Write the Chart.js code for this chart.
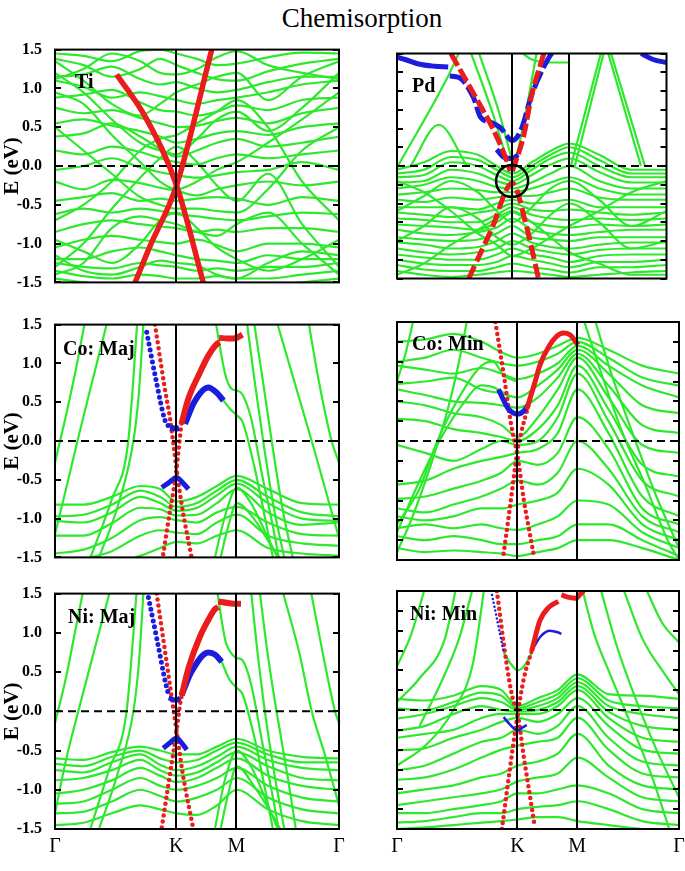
<!DOCTYPE html>
<html lang="en">
<head>
<meta charset="UTF-8">
<title>Chemisorption</title>
<script src="https://cdn.jsdelivr.net/npm/chart.js"></script>
<style>
    body {
        margin: 0;
        background: white;
        font-family: 'Liberation Serif', 'Times New Roman', serif;
    }
    #fig { position: relative; width: 685px; height: 871px; }
    .title {
        position: absolute;
        left: 262px; top: 5px; width: 200px;
        text-align: center;
        font-size: 27px; line-height: 27px;
        white-space: nowrap;
    }
    .panel { position: absolute; }
</style>
</head>
<body>
<div id="fig">
    <div class="title">Chemisorption</div>
    <div class="panel" style="left:0;top:35px"><canvas id="ti" width="345" height="262"></canvas></div>
    <div class="panel" style="left:340px;top:35px"><canvas id="pd" width="345" height="262"></canvas></div>
    <div class="panel" style="left:0;top:310px"><canvas id="coMaj" width="345" height="262"></canvas></div>
    <div class="panel" style="left:340px;top:310px"><canvas id="coMin" width="345" height="262"></canvas></div>
    <div class="panel" style="left:0;top:579px"><canvas id="niMaj" width="345" height="290"></canvas></div>
    <div class="panel" style="left:340px;top:579px"><canvas id="niMin" width="345" height="290"></canvas></div>
</div>

<script>
// k-path: Γ - K - M - Γ (normalised), energies in eV
const kTicks = [0, 0.427, 0.639, 1];
const kNames = ['Γ', 'K', 'M', 'Γ'];
const kGrid = [0, 0.10, 0.20, 0.30, 0.37, 0.428, 0.50, 0.57, 0.64, 0.75, 0.87, 1.0];

// ---------- Ti ----------
const tiGreen = [
    [1.45, 1.42, 1.35, 1.48, 1.50, 1.45, 1.38, 1.30, 1.32, 1.40, 1.46, 1.45],
    [1.38, 1.30, 1.15, 1.25, 1.38, 1.30, 1.20, 1.12, 1.10, 1.22, 1.32, 1.38],
    [1.15, 1.18, 1.28, 1.12, 1.05, 1.08, 1.00, 0.95, 0.98, 1.08, 1.15, 1.15],
    [1.10, 1.02, 0.88, 0.95, 0.90, 0.85, 0.80, 0.85, 0.88, 0.95, 1.05, 1.10],
    [0.88, 0.92, 0.98, 0.82, 0.72, 0.70, 0.65, 0.70, 0.78, 0.72, 0.85, 0.88],
    [0.75, 0.68, 0.72, 0.62, 0.55, 0.50, 0.52, 0.58, 0.62, 0.55, 0.68, 0.75],
    [0.55, 0.60, 0.52, 0.45, 0.38, 0.30, 0.35, 0.42, 0.45, 0.40, 0.50, 0.55],
    [0.38, 0.42, 0.55, 0.38, 0.22, 0.12, 0.20, 0.30, 0.35, 0.25, 0.30, 0.38],
    [0.20, 0.15, 0.25, 0.18, 0.10, 0.05, 0.02, 0.10, 0.15, 0.10, 0.15, 0.20],
    [-0.05, 0.00, 0.10, -0.02, -0.08, -0.12, -0.15, -0.12, -0.08, -0.05, 0.05, -0.05],
    [-0.20, -0.30, -0.18, -0.22, -0.28, -0.32, -0.38, -0.30, -0.25, -0.20, -0.25, -0.20],
    [-0.45, -0.40, -0.35, -0.45, -0.42, -0.45, -0.42, -0.40, -0.42, -0.50, -0.40, -0.45],
    [-0.62, -0.55, -0.60, -0.55, -0.58, -0.62, -0.65, -0.68, -0.70, -0.65, -0.60, -0.62],
    [-0.85, -0.75, -0.70, -0.75, -0.78, -0.80, -0.85, -0.82, -0.85, -0.80, -0.80, -0.85],
    [-1.05, -0.95, -0.90, -0.95, -0.98, -1.00, -0.95, -1.02, -1.10, -1.00, -1.00, -1.05],
    [-1.20, -1.20, -1.10, -1.05, -1.10, -1.15, -1.20, -1.22, -1.25, -1.15, -1.20, -1.20],
    [-1.25, -1.30, -1.32, -1.25, -1.28, -1.30, -1.35, -1.32, -1.35, -1.30, -1.30, -1.25],
    [-1.35, -1.42, -1.45, -1.40, -1.42, -1.45, -1.45, -1.42, -1.45, -1.45, -1.40, -1.35],
    [-1.45, -1.50, -1.55, -1.52, -1.55, -1.55, -1.55, -1.52, -1.55, -1.55, -1.50, -1.45],
    [1.20, 0.95, 0.60, 0.30, 0.20, 0.15, 0.35, 0.60, 0.70, 0.45, 0.75, 1.20],
    [-1.30, -1.00, -0.55, -0.15, 0.10, 0.25, 0.05, -0.25, -0.45, -0.10, -0.75, -1.30],
    [0.50, 0.20, -0.10, -0.40, -0.50, -0.55, -0.55, -0.58, -0.60, -0.30, 0.20, 0.50],
    [-0.70, -0.50, -0.20, 0.20, 0.35, 0.40, 0.55, 0.70, 0.85, 0.50, -0.20, -0.70],
    [1.35, 1.10, 0.80, 0.65, 0.80, 0.95, 1.05, 1.15, 1.20, 0.85, 1.15, 1.35],
    [-1.40, -1.25, -0.80, -0.65, -0.70, -0.75, -0.85, -0.90, -0.75, -0.60, -1.00, -1.40],
    [0.95, 0.80, 0.40, 0.05, -0.20, -0.30, -0.20, -0.05, 0.05, 0.30, 0.60, 0.95],
    [-0.95, -1.10, -1.25, -1.00, -0.70, -0.60, -0.80, -1.05, -1.20, -1.35, -1.20, -0.95],
    [1.12, 1.25, 1.45, 1.35, 1.20, 1.18, 1.25, 1.40, 1.48, 1.30, 1.20, 1.12],
    [-1.15, -1.35, -1.40, -1.30, -1.22, -1.25, -1.28, -1.40, -1.45, -1.25, -1.10, -1.15]
];
const tiRed1 = [[0.217, 1.18], [0.32, 0.62], [0.428, -0.25], [0.522, -1.5]];
const tiRed2 = [[0.282, -1.5], [0.335, -1.03], [0.428, -0.25], [0.552, 1.5]];

// ---------- Pd ----------
const pdGreen = [
    [-0.05, 0.05, 0.20, 0.15, 0.00, -0.10, 0.05, 0.20, 0.30, 0.15, -0.05, -0.05],
    [-0.10, -0.05, 0.12, 0.08, -0.05, -0.15, 0.00, 0.15, 0.25, 0.08, -0.10, -0.10],
    [-0.15, -0.12, 0.05, 0.00, -0.12, -0.20, -0.05, 0.10, 0.18, 0.00, -0.15, -0.15],
    [-0.22, -0.20, -0.05, -0.10, -0.20, -0.25, -0.12, 0.02, 0.10, -0.08, -0.22, -0.22],
    [-0.30, -0.25, -0.15, -0.20, -0.28, -0.30, -0.22, -0.10, 0.00, -0.20, -0.30, -0.30],
    [-0.38, -0.35, -0.30, -0.32, -0.35, -0.35, -0.30, -0.22, -0.15, -0.30, -0.38, -0.38],
    [-0.45, -0.48, -0.42, -0.45, -0.42, -0.40, -0.40, -0.35, -0.30, -0.42, -0.45, -0.45],
    [-0.55, -0.55, -0.55, -0.58, -0.50, -0.45, -0.50, -0.48, -0.45, -0.55, -0.55, -0.55],
    [-0.62, -0.65, -0.68, -0.62, -0.58, -0.50, -0.58, -0.60, -0.58, -0.62, -0.65, -0.62],
    [-0.70, -0.72, -0.75, -0.75, -0.65, -0.55, -0.65, -0.70, -0.72, -0.70, -0.72, -0.70],
    [-0.78, -0.80, -0.82, -0.85, -0.75, -0.62, -0.75, -0.80, -0.82, -0.78, -0.80, -0.78],
    [-0.85, -0.90, -0.92, -0.88, -0.82, -0.70, -0.85, -0.90, -0.92, -0.88, -0.85, -0.85],
    [-0.95, -0.98, -1.00, -0.98, -0.90, -0.80, -0.95, -0.98, -1.00, -0.95, -0.95, -0.95],
    [-1.02, -1.05, -1.10, -1.08, -1.00, -0.90, -1.02, -1.08, -1.10, -1.05, -1.02, -1.02],
    [-1.10, -1.15, -1.18, -1.15, -1.10, -1.00, -1.10, -1.15, -1.18, -1.12, -1.10, -1.10],
    [-1.18, -1.22, -1.25, -1.25, -1.18, -1.10, -1.18, -1.22, -1.28, -1.20, -1.18, -1.18],
    [-1.25, -1.30, -1.32, -1.32, -1.28, -1.20, -1.25, -1.30, -1.35, -1.28, -1.28, -1.25],
    [-1.32, -1.38, -1.40, -1.40, -1.35, -1.30, -1.35, -1.38, -1.42, -1.35, -1.35, -1.32],
    [-1.40, -1.45, -1.48, -1.45, -1.42, -1.40, -1.42, -1.45, -1.48, -1.45, -1.42, -1.40],
    [-0.60, -0.40, -0.20, -0.35, -0.60, -0.75, -0.55, -0.30, -0.20, -0.45, -0.80, -0.60],
    [-1.00, -0.80, -0.55, -0.70, -0.95, -1.05, -0.90, -0.65, -0.50, -0.75, -1.10, -1.00],
    [-0.20, -0.35, -0.60, -0.90, -1.05, -1.20, -1.10, -0.95, -0.80, -0.60, -0.35, -0.20],
    [-1.45, -1.30, -1.05, -0.85, -0.70, -0.60, -0.75, -0.95, -1.15, -1.30, -1.45, -1.45]
];
const pdGreenLines = [
    [[0.0, -0.02], [0.19, 1.2], [0.235, 1.55]],
    [[0.05, 0.0], [0.155, 0.55], [0.26, 0.0]],
    [[0.27, 1.55], [0.36, 0.65], [0.41, 0.05]],
    [[0.30, 1.55], [0.38, 0.70], [0.425, 0.10]],
    [[0.44, 0.05], [0.48, 0.75], [0.52, 1.55]],
    [[0.45, 1.55], [0.50, 1.42], [0.57, 1.38], [0.64, 1.38]],
    [[0.645, 0.0], [0.76, 1.55]],
    [[0.66, 0.0], [0.77, 1.55]],
    [[0.78, 1.55], [0.905, 0.0]],
    [[0.79, 1.55], [0.92, 0.0]]
];
const pdRedUpL = [[0.20, 1.5], [0.296, 0.89], [0.354, 0.51], [0.401, 0.13], [0.42, -0.07]];
const pdRedUpR = [[0.428, -0.07], [0.47, 0.40], [0.50, 0.95], [0.545, 1.5]];
const pdRedLow = [[0.266, -1.5], [0.35, -0.85], [0.428, -0.23], [0.48, -0.80], [0.525, -1.5]];
const pdBlueTop = [[0.0, 1.45], [0.03, 1.42], [0.08, 1.36], [0.14, 1.33], [0.19, 1.32]];
const pdBlueV = [[0.196, 1.2], [0.23, 1.18], [0.284, 0.91], [0.31, 0.65], [0.35, 0.58], [0.384, 0.51],
                 [0.428, 0.34], [0.46, 0.48], [0.50, 0.95], [0.566, 1.46], [0.575, 1.5]];
const pdBlueLow = [[0.37, 0.22], [0.395, 0.12], [0.428, 0.10], [0.45, 0.15]];
const pdBlueRight = [[0.906, 1.5], [0.95, 1.42], [1.0, 1.38]];
const pdCircle = [[0.427, -0.2]];

// ---------- Co: Maj ----------
const coMajGreen = [
    [-0.82, -0.82, -0.72, -0.58, -0.62, -0.78, -0.72, -0.58, -0.45, -0.62, -0.80, -0.82],
    [-0.97, -0.95, -0.82, -0.64, -0.72, -0.85, -0.80, -0.64, -0.50, -0.72, -0.92, -0.97],
    [-1.03, -1.05, -0.92, -0.72, -0.80, -0.90, -0.86, -0.70, -0.55, -0.80, -1.00, -1.03],
    [-1.22, -1.22, -1.06, -0.86, -0.88, -0.96, -0.95, -0.80, -0.62, -0.92, -1.08, -1.05],
    [-1.45, -1.40, -1.25, -1.02, -0.98, -1.02, -1.05, -0.92, -0.85, -1.05, -1.20, -1.22],
    [-1.58, -1.52, -1.42, -1.22, -1.15, -1.18, -1.20, -1.05, -0.95, -1.22, -1.32, -1.35],
    [-1.65, -1.62, -1.58, -1.48, -1.38, -1.30, -1.32, -1.22, -1.15, -1.38, -1.45, -1.48]
];
const coMajGreenLines = [
    [[0.0, -0.28], [0.04, 0.35], [0.075, 0.95], [0.106, 1.55]],
    [[0.0, -1.2], [0.04, -0.6], [0.079, 0.0], [0.13, 0.75], [0.185, 1.55]],
    [[0.12, -1.55], [0.20, -0.75], [0.258, 0.0], [0.29, 1.55]],
    [[0.15, -1.55], [0.22, -0.85], [0.276, 0.0], [0.295, 0.6], [0.312, 1.55]],
    [[0.675, 1.55], [0.70, 0.85], [0.733, 0.0], [0.77, -0.85], [0.81, -1.55]],
    [[0.70, 1.55], [0.735, 0.7], [0.763, 0.0], [0.80, -0.85], [0.84, -1.55]],
    [[0.78, 1.55], [0.84, 0.8], [0.904, 0.0], [0.95, -0.6], [1.0, -1.25]],
    [[0.892, 1.55], [0.93, 0.75], [0.974, 0.0], [1.0, -0.28]],
    [[0.565, 1.55], [0.60, 0.85], [0.62, 0.68], [0.64, 0.65], [0.66, 0.6], [0.69, 0.3], [0.73, -0.45], [0.77, -1.15], [0.79, -1.55]],
    [[0.593, 0.52], [0.62, 0.40], [0.64, 0.33], [0.66, 0.25], [0.70, -0.3], [0.74, -1.0], [0.77, -1.55]],
    [[0.56, -1.55], [0.60, -0.95], [0.64, -0.6], [0.69, -0.8], [0.75, -1.25], [0.79, -1.55]],
    [[0.58, -1.55], [0.61, -1.1], [0.64, -0.8], [0.70, -1.0], [0.77, -1.4], [0.80, -1.55]]
];
const coMajRed1 = [[0.352, 1.5], [0.387, 0.67], [0.405, 0.29], [0.417, -0.04], [0.428, -0.36], [0.446, -0.82], [0.481, -1.5]];
const coMajRed2 = [[0.381, -1.46], [0.405, -0.9], [0.418, -0.62], [0.428, -0.36], [0.437, -0.05], [0.446, 0.25]];
const coMajRedArc = [[0.445, 0.22], [0.47, 0.55], [0.51, 0.88], [0.54, 1.10], [0.57, 1.25], [0.58, 1.27]];
const coMajRedFlat = [[0.578, 1.33], [0.61, 1.32], [0.64, 1.33], [0.66, 1.37]];
const coMajBlue1 = [[0.323, 1.40], [0.355, 0.80], [0.387, 0.27], [0.405, 0.17]];
const coMajBlueFlat = [[0.405, 0.17], [0.428, 0.16], [0.437, 0.17]];
const coMajBlueArc = [[0.458, 0.22], [0.49, 0.50], [0.54, 0.69], [0.57, 0.62], [0.593, 0.52]];
const coMajBlueLam = [[0.376, -0.60], [0.40, -0.54], [0.428, -0.47], [0.45, -0.54], [0.47, -0.62]];

// ---------- Co: Min ----------
const coMinGreen = [
    [1.25, 1.28, 1.35, 1.25, 1.12, 1.05, 1.10, 1.20, 1.30, 1.15, 0.95, 0.85],
    [1.00, 1.05, 1.15, 1.05, 0.98, 0.95, 1.00, 1.10, 1.25, 1.05, 0.80, 0.70],
    [0.95, 0.90, 0.85, 0.92, 0.85, 0.78, 0.85, 0.98, 1.20, 0.95, 0.70, 0.55],
    [0.72, 0.75, 0.80, 0.65, 0.60, 0.55, 0.70, 0.90, 1.15, 0.85, 0.45, 0.35],
    [0.65, 0.58, 0.50, 0.48, 0.45, 0.42, 0.55, 0.80, 1.10, 0.70, 0.20, 0.10],
    [0.50, 0.45, 0.35, 0.30, 0.20, 0.05, 0.30, 0.65, 1.05, 0.55, -0.05, -0.15],
    [0.28, 0.25, 0.15, 0.10, 0.05, 0.00, 0.15, 0.45, 0.95, 0.40, -0.30, -0.45],
    [-0.05, -0.15, -0.25, -0.10, 0.00, -0.05, 0.00, 0.30, 0.85, 0.25, -0.50, -0.70],
    [-0.55, -0.50, -0.35, -0.25, -0.20, -0.15, -0.10, 0.10, 0.65, 0.10, -0.70, -0.95],
    [-0.73, -0.70, -0.60, -0.50, -0.40, -0.25, -0.30, -0.15, 0.30, -0.10, -0.85, -1.05],
    [-0.85, -0.90, -0.80, -0.70, -0.60, -0.50, -0.55, -0.40, 0.00, -0.35, -0.95, -1.15],
    [-0.95, -1.00, -0.95, -0.85, -0.85, -0.80, -0.75, -0.65, -0.35, -0.55, -1.05, -1.25],
    [-1.10, -1.05, -1.10, -1.05, -1.10, -1.12, -1.05, -0.95, -0.75, -0.80, -1.15, -1.35],
    [-1.20, -1.25, -1.20, -1.25, -1.30, -1.30, -1.25, -1.20, -1.05, -1.05, -1.25, -1.45],
    [-1.35, -1.40, -1.38, -1.40, -1.42, -1.45, -1.40, -1.35, -1.25, -1.25, -1.35, -1.50]
];
const coMinGreenLines = [
    [[0.0, -1.05], [0.08, -0.6], [0.143, 0.0], [0.22, 0.55], [0.30, 0.95], [0.34, 1.0], [0.38, 0.82], [0.428, 0.75]],
    [[0.0, -1.15], [0.08, -0.5], [0.15, 0.0], [0.23, 0.45], [0.30, 0.70], [0.36, 0.65], [0.40, 0.55]],
    [[0.66, 1.55], [0.72, 0.9], [0.80, 0.1], [0.88, -0.55], [0.96, -1.25], [1.0, -1.5]],
    [[0.70, 1.55], [0.76, 0.85], [0.83, 0.15], [0.92, -0.7], [1.0, -1.35]],
    [[0.0, 0.75], [0.03, 1.1], [0.06, 1.55]],
    [[0.0, -1.4], [0.05, -1.0], [0.12, -0.3], [0.18, 0.4], [0.22, 1.0], [0.25, 1.55]]
];
const coMinRed1 = [[0.349, 1.5], [0.38, 0.8], [0.405, 0.2], [0.428, -0.2], [0.45, -0.75], [0.47, -1.15], [0.484, -1.42]];
const coMinRed2 = [[0.378, -1.42], [0.40, -0.85], [0.418, -0.35], [0.428, -0.1], [0.44, 0.1], [0.466, 0.45]];
const coMinRedArc = [[0.46, 0.4], [0.49, 0.75], [0.507, 0.96], [0.54, 1.2], [0.566, 1.32], [0.59, 1.36], [0.613, 1.34], [0.642, 1.21]];
const coMinBlue = [[0.36, 0.65], [0.38, 0.50], [0.396, 0.40], [0.428, 0.34], [0.45, 0.38], [0.466, 0.46]];

// ---------- Ni: Maj ----------
const niMajGreen = [
    [-0.60, -0.62, -0.52, -0.45, -0.50, -0.55, -0.55, -0.45, -0.35, -0.50, -0.58, -0.60],
    [-0.67, -0.70, -0.58, -0.50, -0.60, -0.65, -0.62, -0.50, -0.40, -0.55, -0.65, -0.65],
    [-0.75, -0.78, -0.65, -0.55, -0.68, -0.75, -0.70, -0.58, -0.45, -0.62, -0.72, -0.75],
    [-0.88, -0.85, -0.75, -0.62, -0.75, -0.82, -0.78, -0.65, -0.52, -0.70, -0.85, -0.88],
    [-1.05, -1.00, -0.88, -0.72, -0.82, -0.90, -0.85, -0.72, -0.60, -0.82, -0.95, -1.00],
    [-1.18, -1.15, -1.00, -0.85, -0.95, -1.00, -0.95, -0.85, -0.72, -0.95, -1.10, -1.15],
    [-1.30, -1.28, -1.15, -1.00, -1.08, -1.15, -1.10, -1.00, -0.85, -1.10, -1.25, -1.30],
    [-1.45, -1.42, -1.30, -1.20, -1.25, -1.30, -1.32, -1.20, -1.00, -1.25, -1.40, -1.45]
];
const niMajGreenLines = [
    [[0.0, -0.15], [0.04, 0.45], [0.07, 1.0], [0.10, 1.55]],
    [[0.0, -1.3], [0.04, -0.6], [0.082, 0.0], [0.14, 0.8], [0.195, 1.55]],
    [[0.12, -1.55], [0.19, -0.75], [0.252, 0.0], [0.288, 1.55]],
    [[0.15, -1.55], [0.22, -0.8], [0.276, 0.0], [0.295, 0.6], [0.312, 1.55]],
    [[0.69, 1.55], [0.71, 0.85], [0.739, 0.0], [0.775, -0.85], [0.81, -1.55]],
    [[0.72, 1.55], [0.75, 0.7], [0.78, 0.0], [0.82, -0.85], [0.85, -1.55]],
    [[0.80, 1.55], [0.86, 0.75], [0.904, 0.0], [0.95, -0.55], [1.0, -1.2]],
    [[0.90, 1.55], [0.945, 0.7], [0.986, 0.0], [1.0, -0.15]],
    [[0.57, 1.55], [0.60, 0.9], [0.625, 0.72], [0.64, 0.68], [0.66, 0.65], [0.69, 0.35], [0.73, -0.4], [0.77, -1.15], [0.79, -1.55]],
    [[0.587, 0.63], [0.615, 0.40], [0.64, 0.30], [0.66, 0.22], [0.70, -0.3], [0.74, -1.0], [0.77, -1.55]],
    [[0.56, -1.55], [0.60, -0.85], [0.64, -0.5], [0.69, -0.7], [0.75, -1.2], [0.79, -1.55]],
    [[0.58, -1.55], [0.61, -1.05], [0.64, -0.7], [0.70, -0.95], [0.77, -1.35], [0.80, -1.55]]
];
const niMajRed1 = [[0.358, 1.5], [0.39, 0.70], [0.41, 0.20], [0.428, -0.25], [0.45, -0.80], [0.487, -1.5]];
const niMajRed2 = [[0.376, -1.48], [0.405, -0.80], [0.428, -0.25], [0.44, 0.08], [0.446, 0.20]];
const niMajRedArc = [[0.446, 0.20], [0.47, 0.55], [0.51, 0.95], [0.545, 1.20], [0.563, 1.30], [0.575, 1.33]];
const niMajRedFlat = [[0.575, 1.40], [0.61, 1.38], [0.64, 1.37], [0.655, 1.37]];
const niMajBlue1 = [[0.329, 1.45], [0.36, 0.90], [0.39, 0.35], [0.40, 0.21]];
const niMajBlueFlat = [[0.40, 0.17], [0.428, 0.14], [0.44, 0.17]];
const niMajBlueArc = [[0.446, 0.21], [0.48, 0.50], [0.54, 0.75], [0.565, 0.72], [0.587, 0.63]];
const niMajBlueLam = [[0.381, -0.47], [0.405, -0.40], [0.428, -0.34], [0.445, -0.40], [0.464, -0.49]];

// ---------- Ni: Min ----------
const niMinGreen = [
    [0.14, 0.12, 0.18, 0.30, 0.25, 0.05, 0.15, 0.25, 0.45, 0.20, 0.18, 0.14],
    [0.02, 0.00, 0.10, 0.22, 0.18, 0.02, 0.10, 0.20, 0.40, 0.12, 0.05, 0.02],
    [-0.11, -0.05, 0.05, 0.15, 0.10, 0.00, 0.05, 0.15, 0.35, 0.05, -0.05, -0.10],
    [-0.26, -0.20, -0.05, 0.05, 0.00, -0.02, 0.00, 0.10, 0.30, -0.02, -0.20, -0.25],
    [-0.35, -0.30, -0.25, -0.10, -0.05, -0.05, -0.05, 0.05, 0.25, -0.10, -0.35, -0.40],
    [-0.51, -0.48, -0.35, -0.25, -0.15, -0.10, -0.15, -0.05, 0.15, -0.20, -0.50, -0.55],
    [-0.76, -0.70, -0.55, -0.40, -0.35, -0.25, -0.30, -0.20, 0.05, -0.35, -0.65, -0.70],
    [-0.88, -0.85, -0.75, -0.60, -0.50, -0.45, -0.40, -0.35, -0.10, -0.50, -0.80, -0.85],
    [-1.05, -1.00, -0.95, -0.85, -0.80, -0.70, -0.65, -0.55, -0.30, -0.70, -0.95, -1.00],
    [-1.20, -1.15, -1.10, -1.05, -1.00, -0.90, -0.85, -0.80, -0.60, -0.85, -1.10, -1.15],
    [-1.30, -1.30, -1.25, -1.20, -1.15, -1.05, -1.05, -1.00, -0.95, -1.05, -1.25, -1.30],
    [-1.42, -1.40, -1.35, -1.30, -1.30, -1.25, -1.22, -1.20, -1.15, -1.25, -1.40, -1.45],
    [-1.50, -1.48, -1.45, -1.42, -1.40, -1.38, -1.35, -1.35, -1.40, -1.45, -1.50, -1.52]
];
const niMinGreenLines = [
    [[0.0, 0.55], [0.05, 0.95], [0.10, 1.55]],
    [[0.0, 0.10], [0.08, 0.40], [0.17, 0.90], [0.21, 1.55]],
    [[0.08, -0.20], [0.15, 0.30], [0.22, 0.90], [0.27, 1.55]],
    [[0.0, -0.70], [0.10, -0.45], [0.20, 0.00], [0.27, 0.60], [0.31, 1.55]],
    [[0.655, 1.55], [0.70, 0.95], [0.75, 0.50], [0.82, -0.10], [0.90, -0.80], [0.97, -1.55]],
    [[0.72, 1.55], [0.78, 0.80], [0.84, 0.20], [0.92, -0.50], [1.0, -1.10]],
    [[0.80, 1.55], [0.87, 0.90], [0.95, 0.45], [1.0, 0.20]],
    [[0.88, 1.55], [0.94, 1.10], [1.0, 0.85]],
    [[0.378, 0.73], [0.40, 0.60], [0.428, 0.50], [0.45, 0.55], [0.478, 0.72]]
];
const niMinRed1 = [[0.354, 1.5], [0.39, 0.55], [0.41, 0.15], [0.428, -0.05], [0.45, -0.60], [0.47, -1.05], [0.489, -1.48]];
const niMinRed2 = [[0.372, -1.5], [0.40, -0.75], [0.428, -0.05], [0.45, 0.40], [0.478, 0.75]];
const niMinRedArc = [[0.478, 0.75], [0.507, 1.13], [0.54, 1.30], [0.572, 1.37]];
const niMinRedTop = [[0.583, 1.45], [0.61, 1.42], [0.635, 1.41], [0.65, 1.46], [0.665, 1.52]];
const niMinBlue1 = [[0.337, 1.45], [0.36, 1.05], [0.378, 0.73]];
const niMinBlueArc = [[0.478, 0.75], [0.51, 0.93], [0.542, 1.00], [0.57, 0.98], [0.583, 0.96]];
const niMinBlueLow = [[0.378, -0.09], [0.40, -0.18], [0.428, -0.26], [0.445, -0.22], [0.46, -0.19]];

// ---------- helpers ----------
const GREEN = '#2ee82e';
const RED = '#ea1c1c';
const BLUE = '#1c1cdc';
const FONT = "'Liberation Serif', 'Times New Roman', serif";

function pts(arr) {
    return arr.map(p => ({ x: p[0], y: p[1] }));
}
function greenBands(rows) {
    return rows.map(r => ({
        data: r.map((e, i) => ({ x: kGrid[i], y: e })),
        borderColor: GREEN, borderWidth: 2.2, order: 2
    }));
}
function greenLines(list) {
    return list.map(p => ({ data: pts(p), borderColor: GREEN, borderWidth: 2.2, order: 2 }));
}
function solid(arr, color, w) {
    return { data: pts(arr), borderColor: color, borderWidth: w, order: 1 };
}
function dotted(arr, color, w, gap) {
    return { data: pts(arr), borderColor: color, borderWidth: w, borderDash: [0, gap], borderCapStyle: 'round', order: 1 };
}
function dashed(arr, color, w, dash) {
    return { data: pts(arr), borderColor: color, borderWidth: w, borderDash: dash, order: 1 };
}

// frame, K/M lines, zero line, inner ticks, panel label
const framePlugin = {
    id: 'frame',
    afterDatasetsDraw(chart) {
        const { ctx, chartArea: a, scales: { x, y } } = chart;
        const o = chart.options.plugins.frame;
        ctx.save();
        ctx.strokeStyle = 'black';
        ctx.lineWidth = 2;
        ctx.setLineDash([8, 5]);
        const y0 = y.getPixelForValue(0);
        ctx.beginPath();
        ctx.moveTo(a.left, y0);
        ctx.lineTo(a.right, y0);
        ctx.stroke();
        ctx.setLineDash([]);
        ctx.beginPath();
        [kTicks[1], kTicks[2]].forEach(v => {
            const px = Math.round(x.getPixelForValue(v));
            ctx.moveTo(px, a.top);
            ctx.lineTo(px, a.bottom);
        });
        y.ticks.forEach(t => {
            const py = Math.round(y.getPixelForValue(t.value));
            ctx.moveTo(a.left, py);
            ctx.lineTo(a.left + 6, py);
            ctx.moveTo(a.right - 6, py);
            ctx.lineTo(a.right, py);
        });
        ctx.stroke();
        ctx.strokeRect(a.left, a.top, a.width, a.height);
        ctx.fillStyle = 'black';
        ctx.font = 'bold 20px ' + FONT;
        ctx.textBaseline = 'alphabetic';
        ctx.fillText(o.label, a.left + o.dx, a.top + o.dy);
        ctx.restore();
    }
};

function makeChart(id, datasets, opt) {
    const leftCol = opt.col === 0;
    const bottomRow = opt.row === 2;
    new Chart(document.getElementById(id), {
        type: 'line',
        data: { datasets: datasets },
        options: {
            responsive: false,
            animation: false,
            layout: { padding: { top: 12, right: 6, bottom: bottomRow ? 0 : 12, left: 0 } },
            elements: {
                point: { radius: 0 },
                line: { cubicInterpolationMode: 'monotone', fill: false }
            },
            datasets: { line: { clip: 0 } },
            scales: {
                x: {
                    type: 'linear', min: 0, max: 1,
                    grid: { display: false },
                    border: { display: false },
                    afterBuildTicks: s => { s.ticks = kTicks.map(v => ({ value: v })); },
                    afterFit: s => { s.height = bottomRow ? 40 : 0; s.paddingLeft = 0; s.paddingRight = 0; },
                    ticks: {
                        display: bottomRow,
                        autoSkip: false, maxRotation: 0, padding: -2,
                        color: 'black',
                        font: { family: FONT, size: 20 },
                        callback: (v, i) => kNames[i]
                    }
                },
                y: {
                    min: -1.5, max: 1.5,
                    grid: { display: false },
                    border: { display: false },
                    afterFit: s => { s.width = leftCol ? 55 : 57; },
                    ticks: {
                        display: leftCol,
                        stepSize: 0.25, padding: 5,
                        color: 'black',
                        font: { family: FONT, size: 16, weight: 'bold' },
                        callback: v => (Math.round(v * 100) % 50 === 0 ? v.toFixed(1) : '')
                    },
                    title: {
                        display: leftCol,
                        text: 'E (eV)',
                        color: 'black', padding: 0,
                        font: { family: FONT, size: 21, weight: 'bold' }
                    }
                }
            },
            plugins: {
                legend: { display: false },
                tooltip: { enabled: false },
                frame: { label: opt.label, dx: opt.dx, dy: opt.dy }
            }
        },
        plugins: [framePlugin]
    });
}

makeChart('ti', [
    solid(tiRed1, RED, 5.5),
    solid(tiRed2, RED, 5.5),
    ...greenBands(tiGreen)
], { col: 0, row: 0, label: 'Ti', dx: 20, dy: 38 });

makeChart('pd', [
    { data: pts(pdCircle), showLine: false, pointRadius: 16, pointBorderWidth: 2.5,
      pointBorderColor: 'black', pointBackgroundColor: 'rgba(0,0,0,0)', order: 0 },
    dashed(pdRedUpL, RED, 5, [14, 4]),
    dashed(pdRedUpR, RED, 5, [14, 4]),
    dashed(pdRedLow, RED, 5, [14, 5]),
    solid(pdBlueTop, BLUE, 5),
    dashed(pdBlueV, BLUE, 5, [18, 4]),
    solid(pdBlueLow, BLUE, 5),
    solid(pdBlueRight, BLUE, 5),
    ...greenLines(pdGreenLines),
    ...greenBands(pdGreen)
], { col: 1, row: 0, label: 'Pd', dx: 15, dy: 38 });

makeChart('coMaj', [
    solid(coMajRedArc, RED, 6),
    solid(coMajRedFlat, RED, 6),
    solid(coMajBlueArc, BLUE, 6),
    solid(coMajBlueFlat, BLUE, 6),
    solid(coMajBlueLam, BLUE, 5),
    dotted(coMajBlue1, BLUE, 5, 6),
    dotted(coMajRed1, RED, 4.5, 6),
    dotted(coMajRed2, RED, 4.5, 6),
    ...greenLines(coMajGreenLines),
    ...greenBands(coMajGreen)
], { col: 0, row: 1, label: 'Co: Maj', dx: 8, dy: 30 });

makeChart('coMin', [
    solid(coMinRedArc, RED, 5),
    solid(coMinBlue, BLUE, 5),
    dotted(coMinRed1, RED, 4.5, 6),
    dotted(coMinRed2, RED, 4.5, 6),
    ...greenLines(coMinGreenLines),
    ...greenBands(coMinGreen)
], { col: 1, row: 1, label: 'Co: Min', dx: 15, dy: 28 });

makeChart('niMaj', [
    solid(niMajRedArc, RED, 6),
    solid(niMajRedFlat, RED, 6),
    solid(niMajBlueArc, BLUE, 6),
    solid(niMajBlueFlat, BLUE, 5),
    solid(niMajBlueLam, BLUE, 5),
    dotted(niMajBlue1, BLUE, 5, 6),
    dotted(niMajRed1, RED, 4.5, 6),
    dotted(niMajRed2, RED, 4.5, 6),
    ...greenLines(niMajGreenLines),
    ...greenBands(niMajGreen)
], { col: 0, row: 2, label: 'Ni: Maj', dx: 13, dy: 29 });

makeChart('niMin', [
    solid(niMinRedArc, RED, 5),
    solid(niMinRedTop, RED, 5),
    solid(niMinBlueArc, BLUE, 2.5),
    solid(niMinBlueLow, BLUE, 2.5),
    dotted(niMinBlue1, BLUE, 2.5, 4),
    dotted(niMinRed1, RED, 4.5, 6),
    dotted(niMinRed2, RED, 4.5, 6),
    ...greenLines(niMinGreenLines),
    ...greenBands(niMinGreen)
], { col: 1, row: 2, label: 'Ni: Min', dx: 13, dy: 29 });
</script>
</body>
</html>
